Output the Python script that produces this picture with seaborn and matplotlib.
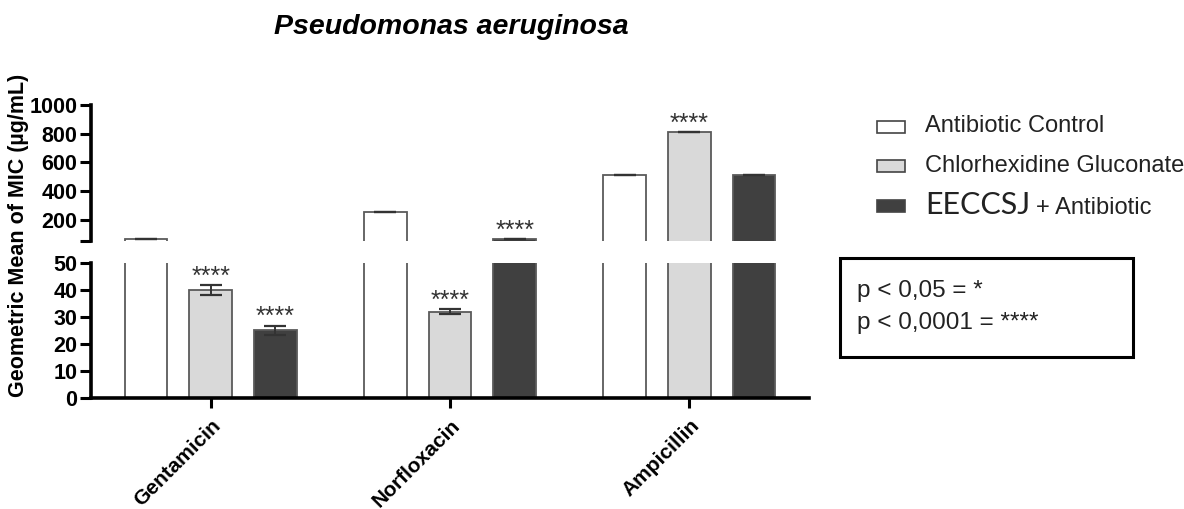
import matplotlib
matplotlib.use("Agg")
import matplotlib.pyplot as plt
from matplotlib.patches import Rectangle
import seaborn as sns
import pandas as pd

# ---- data ----
antibiotics = ["Gentamicin", "Norfloxacin", "Ampicillin"]
treatments = ["Antibiotic Control", "Chlorhexidine Gluconate", "EECCSJ + Antibiotic"]
control_mic = [64, 256, 512]
chlorhex_mic = [40, 32, 812]
eeccsj_mic = [25, 64, 512]
control_err = [0, 0, 0]
chlorhex_err = [1.8, 1.0, 0]
eeccsj_err = [1.8, 0, 0]
control_sig = ["", "", ""]
chlorhex_sig = ["****", "****", "****"]
eeccsj_sig = ["****", "****", ""]
top_ticks = [50, 200, 400, 600, 800, 1000]
top_ticklabels = ["", "200", "400", "600", "800", "1000"]
bottom_ticks = [0, 10, 20, 30, 40, 50]

colors = ["#ffffff", "#d9d9d9", "#404040"]

rows = []
for vals, errs, sigs, tr in [(control_mic, control_err, control_sig, treatments[0]),
                             (chlorhex_mic, chlorhex_err, chlorhex_sig, treatments[1]),
                             (eeccsj_mic, eeccsj_err, eeccsj_sig, treatments[2])]:
    for ab, v, e, s in zip(antibiotics, vals, errs, sigs):
        rows.append({"Antibiotic": ab, "Treatment": tr, "MIC": v, "err": e, "sig": s})
df = pd.DataFrame(rows)

sns.set_theme(style="white")
plt.rcParams["font.family"] = ["Liberation Sans", "DejaVu Sans"]

fig = plt.figure(figsize=(11.84, 5.09), dpi=100)
ax_top = fig.add_axes([0.0769, 0.5265, 0.6064, 0.2672])
ax_bot = fig.add_axes([0.0769, 0.2181, 0.6064, 0.2652])

for ax in (ax_top, ax_bot):
    sns.barplot(data=df, x="Antibiotic", y="MIC", hue="Treatment",
                order=antibiotics, hue_order=treatments, palette=colors,
                width=0.81, gap=0.34, edgecolor="#5a5a5a", linewidth=1.3,
                errorbar=None, legend=False, ax=ax, saturation=1)
    ax.set_xlim(-0.5, 2.5)
    ax.set_xlabel("")
    ax.set_ylabel("")
    ax.set_facecolor("white")

ax_top.set_ylim(50, 1000)
ax_bot.set_ylim(0, 50)

# error bars and significance marks
for ax, lo, hi in [(ax_top, 50, 1000), (ax_bot, 0, 50)]:
    for tr, cont in zip(treatments, ax.containers):
        sub = df[df["Treatment"] == tr].set_index("Antibiotic").loc[antibiotics]
        for bar, (ab, r) in zip(cont, sub.iterrows()):
            xc = bar.get_x() + bar.get_width() / 2
            top = r["MIC"] + r["err"]
            if lo <= r["MIC"] <= hi:
                ax.errorbar(xc, r["MIC"], yerr=r["err"], color="#333333",
                            capsize=8, elinewidth=1.4, capthick=1.6, fmt="none",
                            clip_on=False)
            if r["sig"] and lo <= top <= hi:
                ax.annotate(r["sig"], (xc, top), xytext=(0, 1),
                            textcoords="offset points", ha="center", va="baseline",
                            fontsize=18, color="#333333")

# spines / ticks
for sp in ["top", "right", "bottom"]:
    ax_top.spines[sp].set_visible(False)
for sp in ["top", "right"]:
    ax_bot.spines[sp].set_visible(False)
for ax in (ax_top, ax_bot):
    ax.spines["left"].set_linewidth(2.6)
    ax.spines["left"].set_color("black")
ax_bot.spines["bottom"].set_linewidth(2.6)
ax_bot.spines["bottom"].set_color("black")

ax_top.set_yticks(top_ticks)
ax_top.set_yticklabels(top_ticklabels)
ax_top.tick_params(axis="x", bottom=False, labelbottom=False)
ax_bot.set_yticks(bottom_ticks)
for ax in (ax_top, ax_bot):
    ax.tick_params(axis="y", left=True, length=8, width=2.2, color="black",
                   labelsize=15.5, pad=2)
    for lab in ax.get_yticklabels():
        lab.set_fontweight("bold")
        lab.set_color("black")
ax_bot.tick_params(axis="x", bottom=True, length=7, width=2.2, color="black",
                   labelsize=15, pad=6)
ax_bot.set_xticks(range(len(antibiotics)))
ax_bot.set_xticklabels(antibiotics, rotation=45, ha="right", rotation_mode="anchor",
                       fontweight="bold", color="black")

# title and y label
fig.text(0.381, 0.947, "Pseudomonas aeruginosa", ha="center", va="center",
         fontsize=20.5, fontweight="bold", fontstyle="italic", color="black")
fig.text(0.016, 0.538, "Geometric Mean of MIC (µg/mL)", rotation=90,
         ha="center", va="center", fontsize=15.5, fontweight="bold", color="black")

# legend (manual, to allow the mixed font sizes)
W, H = 1184, 509
def fx(px):
    return px / W
def fy(py):
    return 1 - py / H

leg_y = [127, 166, 206]
for c, y in zip(colors, leg_y):
    fig.patches.append(Rectangle((fx(877), fy(y + 6)), 28 / W, 12 / H,
                                 transform=fig.transFigure, facecolor=c,
                                 edgecolor="#444444", linewidth=1.2))
fig.text(fx(925), fy(126), "Antibiotic Control", ha="left", va="center",
         fontsize=17, color="#222222")
fig.text(fx(925), fy(166), "Chlorhexidine Gluconate", ha="left", va="center",
         fontsize=17, color="#222222")
t_e = fig.text(fx(925), fy(214), "EECCSJ", ha="left", va="baseline",
               fontsize=22, color="#222222", family=["Lato", "DejaVu Sans"])
fig.canvas.draw()
bb = t_e.get_window_extent(renderer=fig.canvas.get_renderer())
fig.text(bb.x1 / (fig.dpi * fig.get_figwidth()) + 6 / W, fy(214), "+ Antibiotic",
         ha="left", va="baseline", fontsize=17, color="#222222")

# significance key box
fig.patches.append(Rectangle((fx(840), fy(357)), (1133 - 840) / W, (357 - 258) / H,
                             transform=fig.transFigure, facecolor="none",
                             edgecolor="black", linewidth=2.2))
fig.text(fx(857), fy(291), "p < 0,05 = *", ha="left", va="center",
         fontsize=17.5, color="#222222")
fig.text(fx(857), fy(323), "p < 0,0001 = ****", ha="left", va="center",
         fontsize=17.5, color="#222222")

fig.savefig("out.png", dpi=100, facecolor="white")
